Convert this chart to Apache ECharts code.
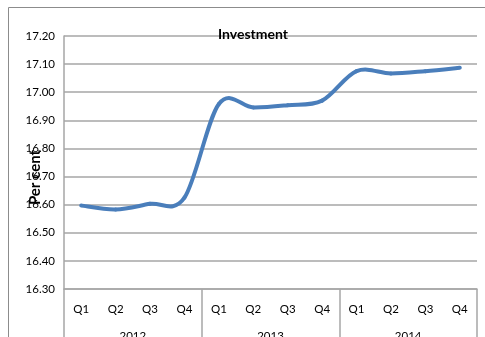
<!DOCTYPE html>
<html>
<head>
<meta charset="utf-8">
<script src="https://cdn.jsdelivr.net/npm/echarts@6/dist/echarts.min.js"></script>
<style>
  html, body { margin: 0; padding: 0; background: #fff; }
  #chart { width: 485px; height: 337px; }
</style>
</head>
<body>
<div id="chart"></div>
<script>
// Quarterly investment share, per cent
const quarters = ['Q1', 'Q2', 'Q3', 'Q4', 'Q1', 'Q2', 'Q3', 'Q4', 'Q1', 'Q2', 'Q3', 'Q4'];
const years = ['2012', '2013', '2014'];
const investment = [16.597, 16.583, 16.603, 16.625, 16.958, 16.946, 16.954, 16.97, 17.075, 17.067, 17.075, 17.087];
const yMin = 16.3;
const yMax = 17.2;
const yStep = 0.1;

const FONT = 'Lato, "Liberation Sans", sans-serif';
const GRID_GREY = '#a6a6a6';
const LINE_BLUE = '#4a7ebb';

const chart = echarts.init(document.getElementById('chart'), null, { renderer: 'canvas' });

// Smoothed line: one cubic Bezier per segment, control points taken
// from the neighbouring points (Catmull-Rom style, tension 1/6).
function renderSegment(params, api) {
  const i = params.dataIndex;
  if (i >= investment.length - 1) return null;
  const pt = k => {
    const kk = Math.max(0, Math.min(investment.length - 1, k));
    return api.coord([kk, investment[kk]]);
  };
  const p0 = pt(i - 1), p1 = pt(i), p2 = pt(i + 1), p3 = pt(i + 2);
  const t = 1 / 6;
  const c1 = [p1[0] + (p2[0] - p0[0]) * t, p1[1] + (p2[1] - p0[1]) * t];
  const c2 = [p2[0] - (p3[0] - p1[0]) * t, p2[1] - (p3[1] - p1[1]) * t];
  return {
    type: 'bezierCurve',
    shape: {
      x1: p1[0], y1: p1[1],
      cpx1: c1[0], cpy1: c1[1],
      cpx2: c2[0], cpy2: c2[1],
      x2: p2[0], y2: p2[1]
    },
    style: { stroke: LINE_BLUE, lineWidth: 4, lineCap: 'round', fill: null }
  };
}

chart.setOption({
  animation: false,
  backgroundColor: '#fff',
  textStyle: { fontFamily: FONT },
  title: {
    text: 'Investment',
    left: 248,
    top: 22,
    textAlign: 'center',
    textStyle: { fontFamily: FONT, fontSize: 14, fontWeight: 'bold', color: '#000' }
  },
  graphic: [{
    type: 'rect',
    shape: { x: 8.5, y: 7.5, width: 600, height: 500 },
    style: { fill: 'none', stroke: '#8c8c8c', lineWidth: 1 },
    silent: true,
    z: -1
  }],
  grid: { left: 64, right: 8, top: 36, bottom: 48, containLabel: false, outerBoundsMode: 'none' },
  xAxis: [
    {
      type: 'category',
      data: quarters,
      boundaryGap: true,
      axisLine: { show: true, lineStyle: { color: GRID_GREY, width: 1.5 } },
      axisTick: { show: false },
      axisLabel: { color: '#000', fontSize: 11.5, margin: 14, interval: 0, fontFamily: FONT }
    },
    {
      type: 'category',
      data: years,
      position: 'bottom',
      boundaryGap: true,
      axisLine: { show: false },
      axisTick: { show: true, length: 50, lineStyle: { color: GRID_GREY, width: 1.5 } },
      axisLabel: { color: '#000', fontSize: 11.5, margin: 41, interval: 0, fontFamily: FONT }
    }
  ],
  yAxis: {
    type: 'value',
    min: yMin,
    max: yMax,
    interval: yStep,
    name: 'Per cent',
    nameLocation: 'middle',
    nameRotate: 90,
    nameGap: 21,
    nameMoveOverlap: false,
    nameTextStyle: { color: '#000', fontSize: 15, fontWeight: 'bold', fontFamily: FONT, padding: [0, 30, 0, 0] },
    axisLine: { show: true, lineStyle: { color: GRID_GREY, width: 1.5 } },
    axisTick: { show: false },
    axisLabel: {
      color: '#000', fontSize: 11.5, margin: 9, fontFamily: FONT,
      formatter: v => v.toFixed(2)
    },
    splitLine: { show: true, lineStyle: { color: GRID_GREY, width: 1.5 } }
  },
  series: [{
    type: 'custom',
    name: 'Investment',
    xAxisIndex: 0,
    data: investment.map((v, i) => [i, v]),
    encode: { x: 0, y: 1 },
    renderItem: renderSegment,
    z: 3
  }]
});
</script>
</body>
</html>
